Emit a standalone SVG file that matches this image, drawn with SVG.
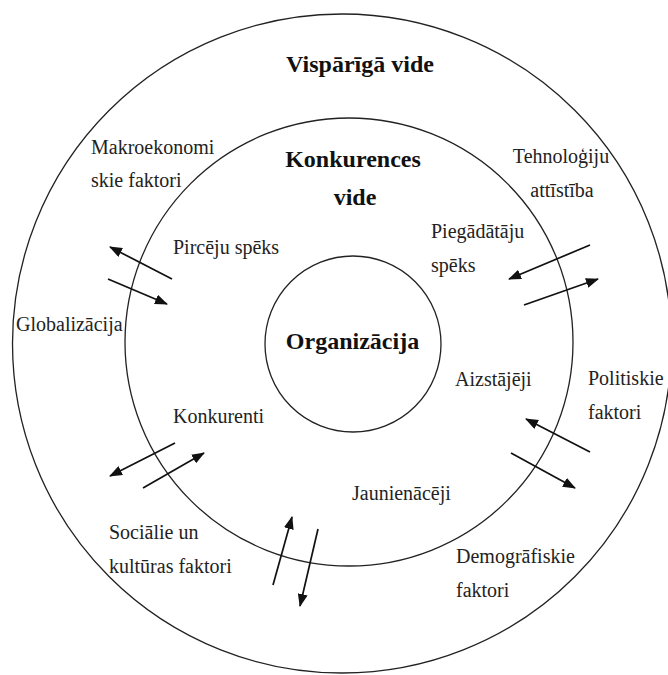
<svg xmlns="http://www.w3.org/2000/svg" width="668" height="675" viewBox="0 0 668 675">
  <defs>
    <marker id="ah" viewBox="0 0 13 10" refX="12" refY="5" markerWidth="13" markerHeight="10" markerUnits="userSpaceOnUse" orient="auto">
      <path d="M0,0 L13,5 L0,10 z" fill="#111"/>
    </marker>
  </defs>
  <style>
    .ring { fill: none; stroke: #222; stroke-width: 1.3; }
    .t { font-family: "Liberation Serif", "Times New Roman", serif; font-size: 20px; fill: #222; }
    .b { font-family: "Liberation Serif", "Times New Roman", serif; font-size: 24px; font-weight: bold; fill: #111; }
    .arr { stroke: #111; stroke-width: 1.7; fill: none; marker-end: url(#ah); }
  </style>
  <rect width="668" height="675" fill="#fff"/>

  <g id="outer">
    <circle class="ring" cx="342" cy="343.5" r="329.5"/>
    <text class="b" x="360" y="72" text-anchor="middle">Vispārīgā vide</text>
  </g>
  <g id="inner">
    <circle class="ring" cx="349" cy="342" r="224"/>
    <text class="b" x="353" y="167" text-anchor="middle">Konkurences</text>
    <text class="b" x="355" y="205" text-anchor="middle">vide</text>
  </g>
  <g id="organizacija">
    <circle class="ring" cx="353" cy="344" r="88"/>
    <text class="b" x="352.5" y="349" text-anchor="middle">Organizācija</text>
  </g>

  <g id="makroekonomiskie"><text class="t" x="91" y="154">Makroekonomi</text><text class="t" x="91" y="187">skie faktori</text></g>
  <g id="tehnologiju"><text class="t" x="561" y="163" text-anchor="middle">Tehnoloģiju</text><text class="t" x="562" y="197" text-anchor="middle">attīstība</text></g>
  <g id="pirceju"><text class="t" x="173" y="254">Pircēju spēks</text></g>
  <g id="piegadataju"><text class="t" x="431" y="238">Piegādātāju</text><text class="t" x="431" y="272">spēks</text></g>
  <g id="globalizacija"><text class="t" x="16" y="331">Globalizācija</text></g>
  <g id="aizstajeji"><text class="t" x="455" y="386">Aizstājēji</text></g>
  <g id="politiskie"><text class="t" x="588" y="385">Politiskie</text><text class="t" x="588" y="419">faktori</text></g>
  <g id="konkurenti"><text class="t" x="173" y="423">Konkurenti</text></g>
  <g id="jaunienaceji"><text class="t" x="352" y="500">Jaunienācēji</text></g>
  <g id="socialie"><text class="t" x="109" y="539">Sociālie un</text><text class="t" x="109" y="573">kultūras faktori</text></g>
  <g id="demografiskie"><text class="t" x="456" y="563">Demogrāfiskie</text><text class="t" x="456" y="597">faktori</text></g>

  <g id="connectors">
    <line class="arr" x1="172" y1="279" x2="110" y2="247"/>
    <line class="arr" x1="108" y1="279" x2="167" y2="304"/>
    <line class="arr" x1="590" y1="245" x2="509" y2="279"/>
    <line class="arr" x1="524" y1="305" x2="598" y2="279"/>
    <line class="arr" x1="590" y1="452" x2="526" y2="419"/>
    <line class="arr" x1="511" y1="453" x2="575" y2="488"/>
    <line class="arr" x1="175" y1="443" x2="110" y2="476"/>
    <line class="arr" x1="143" y1="488" x2="204" y2="453"/>
    <line class="arr" x1="273" y1="585" x2="292" y2="517"/>
    <line class="arr" x1="318" y1="529" x2="300" y2="606"/>
  </g>
</svg>
